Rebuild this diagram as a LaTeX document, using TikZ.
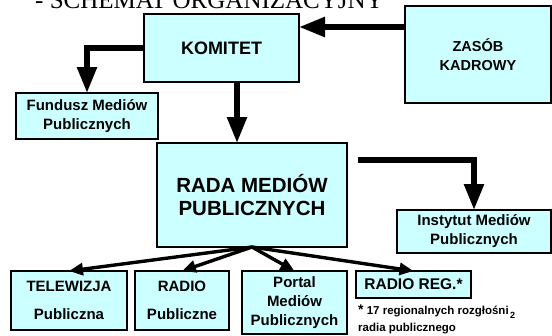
\documentclass[tikz,border=0pt]{standalone}
\usepackage{fontspec}
\setmainfont{Liberation Sans}
\newfontfamily\timesf{Liberation Serif}
\usetikzlibrary{arrows.meta}
\definecolor{boxfill}{RGB}{204,255,255}
\begin{document}
\begin{tikzpicture}[x=1pt,y=-1pt,
  box/.style={draw=black, line width=1.2pt, fill=boxfill, inner sep=0pt, outer sep=0pt, align=center},
  bigarrow/.style={line width=5.5pt, -{Triangle[width=19pt,length=26pt]}},
  smallarrow/.style={line width=3.4pt, -{Triangle[width=12pt,length=14pt]}}]
\useasboundingbox (0,0) rectangle (552,335);
\clip (0,0) rectangle (552,335);
\node[anchor=base west, inner sep=0pt, font=\timesf\fontsize{25}{25}\selectfont] (title) at (35,8) {- SCHEMAT ORGANIZACYJNY};
\node[box, minimum width=155pt, minimum height=68pt, font=\bfseries\fontsize{18}{22}\selectfont] (komitet) at (221.5,48) {KOMITET};
\node[box, minimum width=146pt, minimum height=97pt, font=\bfseries\fontsize{14.5}{19}\selectfont] (zasob) at (478,54.5) {ZASÓB\\KADROWY};
\node[box, minimum width=142pt, minimum height=46pt, font=\bfseries\fontsize{15}{19}\selectfont] (fundusz) at (87,116) {Fundusz Mediów\\Publicznych};
\node[box, minimum width=190pt, minimum height=104pt, font=\bfseries\fontsize{20.5}{23}\selectfont] (rada) at (252,195) {RADA MEDIÓW\\PUBLICZNYCH};
\node[box, minimum width=154pt, minimum height=43pt, font=\bfseries\fontsize{15}{19}\selectfont] (instytut) at (474,231.5) {Instytut Mediów\\Publicznych};
\node[box, minimum width=116pt, minimum height=59pt, font=\bfseries\fontsize{15}{28}\selectfont] (tv) at (69,300.5) {TELEWIZJA\\Publiczna};
\node[box, minimum width=94pt, minimum height=59pt, font=\bfseries\fontsize{15}{28}\selectfont] (radio) at (182,300.5) {RADIO\\Publiczne};
\node[box, minimum width=105pt, minimum height=63pt, font=\bfseries\fontsize{15}{19}\selectfont] (portal) at (294.5,302.5) {Portal\\Mediów\\Publicznych};
\node[box, minimum width=115pt, minimum height=27pt, font=\bfseries\fontsize{15.5}{19}\selectfont] (radioreg) at (413.5,284.5) {RADIO REG.*};
\node[anchor=base west, inner sep=0pt, font=\bfseries\fontsize{11.5}{13}\selectfont] (note1) at (358,314.5) {{\fontsize{14}{14}\selectfont *} 17 regionalnych rozgłośni};
\node[anchor=base west, inner sep=0pt, font=\bfseries\fontsize{11.5}{13}\selectfont] (note2) at (358,331.5) {radia publicznego};
\node[anchor=base west, inner sep=0pt, font=\bfseries\fontsize{9}{10}\selectfont] (pagenum) at (510,318) {2};
% connectors
\draw[bigarrow] (zasob.west |- 0,27) -- (komitet.east |- 0,27);
\draw[bigarrow] (komitet.west |- 0,48) -| (fundusz.north);
\draw[bigarrow] (komitet.south -| 237,0) -- (rada.north -| 237,0);
\coordinate (rstart) at (358,160);
\draw[bigarrow] (rstart) -| (instytut.north);
\draw[smallarrow] (rada.south) -- (tv.north);
\draw[smallarrow] (rada.south) -- (radio.north);
\draw[smallarrow] (rada.south) -- (portal.north);
\draw[smallarrow] (rada.south) -- (radioreg.north);
\end{tikzpicture}
\end{document}
